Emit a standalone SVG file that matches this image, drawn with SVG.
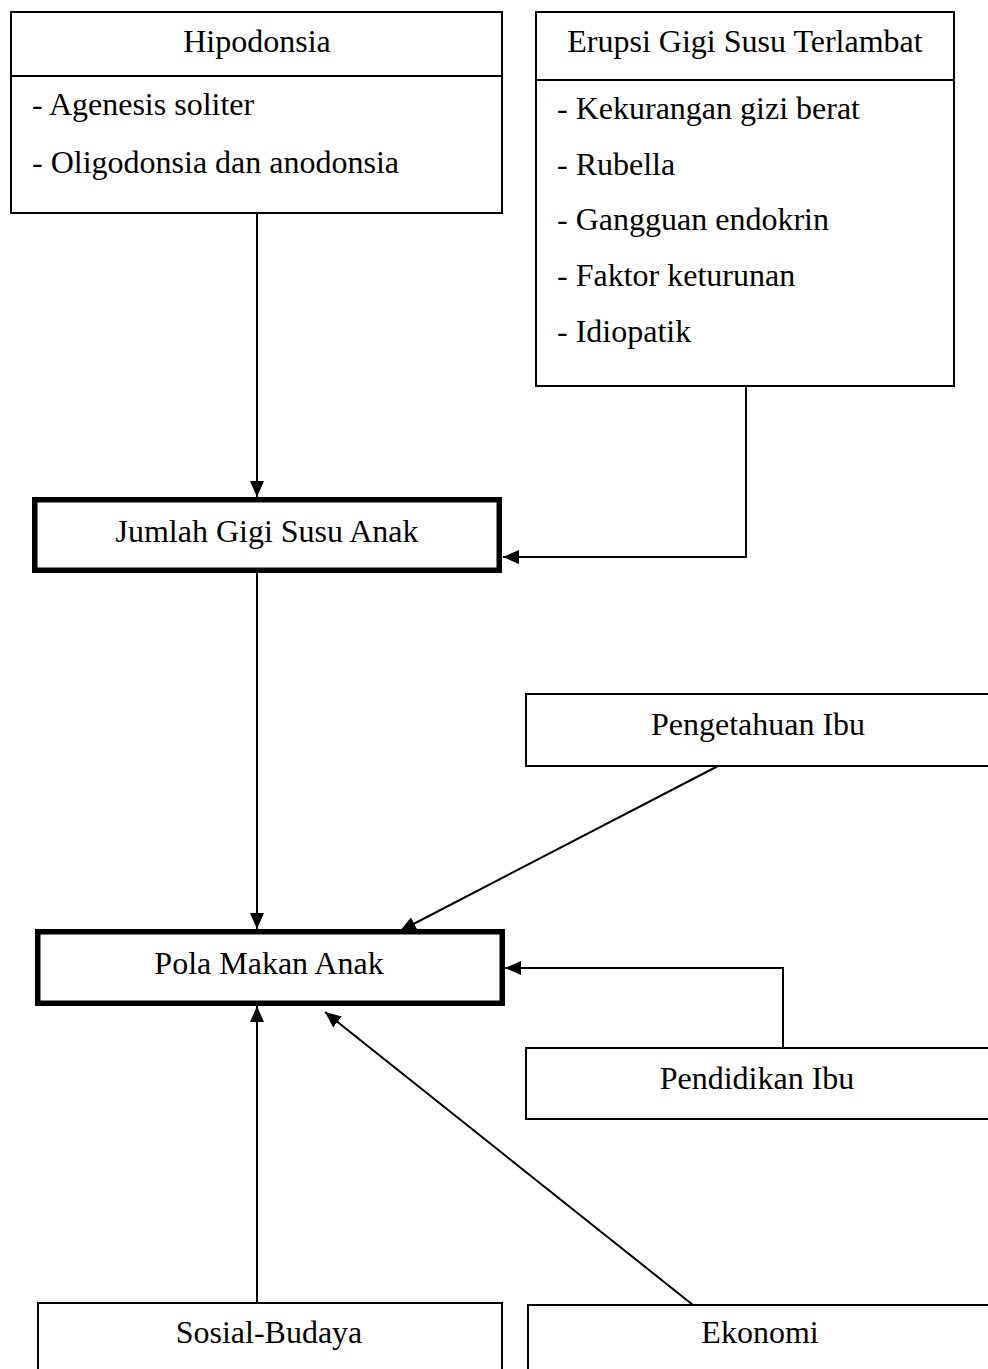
<svg xmlns="http://www.w3.org/2000/svg" width="988" height="1369" viewBox="0 0 988 1369">
<style>
.box{fill:#fff;stroke:#000;stroke-width:2}
.thick{fill:#fff;stroke:#000;stroke-width:5.5}
.t{font-family:"Liberation Serif","Times New Roman",serif;font-size:32px;fill:#000}
.c{text-anchor:middle}
.edge{fill:none;stroke:#000;stroke-width:2}
</style>
<defs>
<marker id="arr" markerUnits="userSpaceOnUse" markerWidth="16" markerHeight="14" refX="16" refY="7" orient="auto">
<path d="M0,0 L16,7 L0,14 z" fill="#000"/>
</marker>
</defs>
<g id="connectors">
<path class="edge" d="M257 213 V497" marker-end="url(#arr)"/>
<path class="edge" d="M718 386 H746 V557 H503" marker-end="url(#arr)"/>
<path class="edge" d="M257 573 V929" marker-end="url(#arr)"/>
<path class="edge" d="M718 766 L400 931" marker-end="url(#arr)"/>
<path class="edge" d="M783 1048 V968 H505" marker-end="url(#arr)"/>
<path class="edge" d="M257 1303 V1006" marker-end="url(#arr)"/>
<path class="edge" d="M693 1305 L325 1012" marker-end="url(#arr)"/>
</g>
<g id="hipodonsia">
<rect class="box" x="11" y="12" width="491" height="201"/>
<line class="edge" x1="11" y1="76" x2="502" y2="76"/>
<text class="t c" x="257" y="52">Hipodonsia</text>
<text class="t" x="32" y="115">- Agenesis soliter</text>
<text class="t" x="32" y="173">- Oligodonsia dan anodonsia</text>
</g>
<g id="erupsi">
<rect class="box" x="536" y="12" width="418" height="374"/>
<line class="edge" x1="536" y1="80" x2="954" y2="80"/>
<text class="t c" x="745" y="52">Erupsi Gigi Susu Terlambat</text>
<text class="t" x="557" y="119">- Kekurangan gizi berat</text>
<text class="t" x="557" y="175">- Rubella</text>
<text class="t" x="557" y="230">- Gangguan endokrin</text>
<text class="t" x="557" y="286">- Faktor keturunan</text>
<text class="t" x="557" y="342">- Idiopatik</text>
</g>
<g id="jumlah">
<rect class="thick" x="34.75" y="499.75" width="464.5" height="70.5"/>
<text class="t c" x="267" y="542">Jumlah Gigi Susu Anak</text>
</g>
<g id="pengetahuan">
<rect class="box" x="526" y="694" width="480" height="72"/>
<text class="t c" x="758" y="735">Pengetahuan Ibu</text>
</g>
<g id="pola">
<rect class="thick" x="37.75" y="931.75" width="464.5" height="71.5"/>
<text class="t c" x="269" y="974">Pola Makan Anak</text>
</g>
<g id="pendidikan">
<rect class="box" x="526" y="1048" width="480" height="71"/>
<text class="t c" x="757" y="1089">Pendidikan Ibu</text>
</g>
<g id="sosial">
<rect class="box" x="38" y="1303" width="464" height="100"/>
<text class="t c" x="269" y="1343">Sosial-Budaya</text>
</g>
<g id="ekonomi">
<rect class="box" x="528" y="1305" width="480" height="100"/>
<text class="t c" x="760" y="1343">Ekonomi</text>
</g>
</svg>
